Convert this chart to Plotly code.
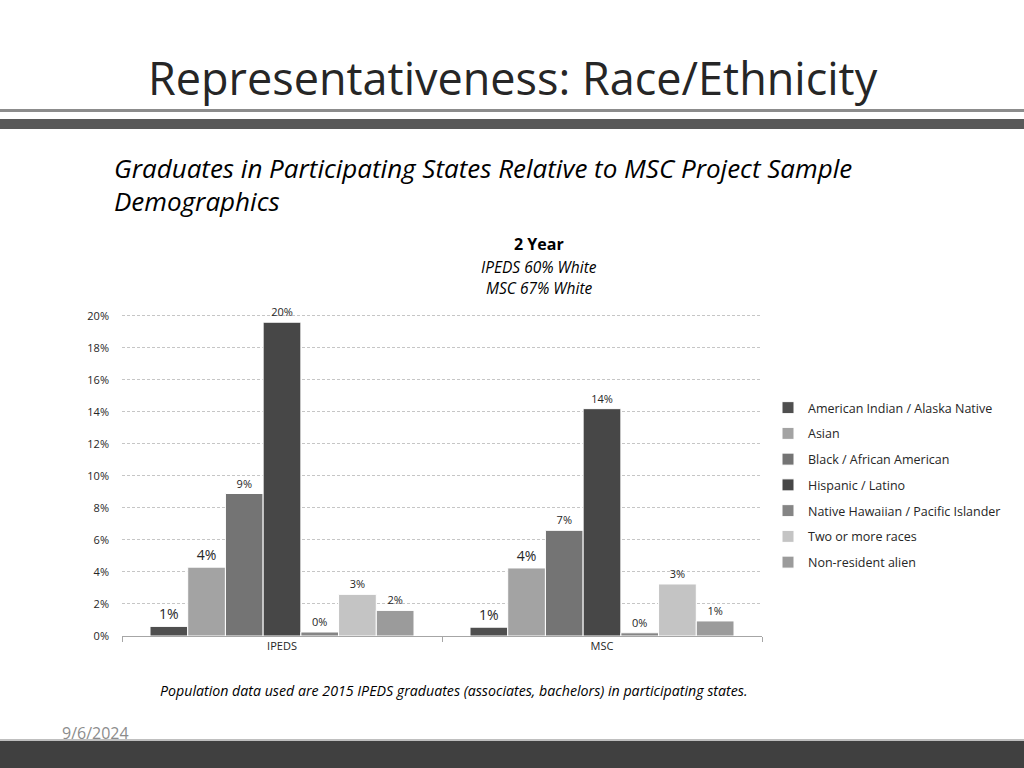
import plotly.graph_objects as go

# ---- data ----
groups = ["IPEDS", "MSC"]
series_names = [
    "American Indian / Alaska Native",
    "Asian",
    "Black / African American",
    "Hispanic / Latino",
    "Native Hawaiian / Pacific Islander",
    "Two or more races",
    "Non-resident alien",
]
aian = [0.006, 0.0055]
asian = [0.043, 0.0425]
black = [0.089, 0.066]
hispanic = [0.196, 0.142]
nhpi = [0.0025, 0.002]
two_more = [0.026, 0.0325]
nonres = [0.016, 0.0094]
y_ticks = [0, 0.02, 0.04, 0.06, 0.08, 0.10, 0.12, 0.14, 0.16, 0.18, 0.20]

series_values = [aian, asian, black, hispanic, nhpi, two_more, nonres]
colors = ["#4f4f4f", "#a3a3a3", "#747474", "#474747", "#858585", "#c4c4c4", "#9b9b9b"]
label_sizes = [14, 14, 11, 11, 11, 11, 11]

FONT = "Open Sans"

# plot area in pixels
L, R, T, B = 122, 762, 311, 636
W, H = 1024, 768


def px(x):
    return (x - L) / (R - L)


def py(y):
    return (B - y) / (B - T)


fig = go.Figure()
for i, (name, vals) in enumerate(zip(series_names, series_values)):
    fig.add_trace(go.Bar(
        x=groups, y=vals, name=name,
        marker=dict(color=colors[i], line=dict(color="white", width=1)),
        texttemplate="%{y:.0%}", textposition="outside",
        textfont=dict(family=FONT, size=label_sizes[i], color="#262626"),
        cliponaxis=False, legendgroup=name,
    ))

fig.update_layout(
    width=W, height=H,
    paper_bgcolor="white", plot_bgcolor="white",
    margin=dict(l=L, r=W - R, t=T, b=H - B, autoexpand=False),
    barmode="group", bargap=0.175, bargroupgap=0.0,
    font=dict(family=FONT, color="#262626"),
    showlegend=True,
    legend=dict(
        x=px(768), y=py(393), xanchor="left", yanchor="top",
        font=dict(family=FONT, size=12.5, color="#262626"),
        traceorder="grouped", tracegroupgap=6.5,
        itemwidth=30, bgcolor="rgba(0,0,0,0)",
    ),
    xaxis=dict(
        showline=True, linecolor="#a6a6a6", linewidth=1,
        ticks="outside", tickson="boundaries", ticklen=5, tickcolor="#a6a6a6",
        tickfont=dict(family=FONT, size=11, color="#262626"),
        showgrid=False,
    ),
    yaxis=dict(
        range=[0, 0.203], tickvals=y_ticks, tickformat=".0%",
        showgrid=True, gridcolor="#c6c6c6", griddash="3px,2px", gridwidth=1,
        zeroline=False, showline=False,
        tickfont=dict(family=FONT, size=11, color="#262626"),
        ticks="", ticklabelstandoff=12,
    ),
)

shapes = [
    dict(type="rect", xref="paper", yref="paper", x0=px(0), x1=px(W), y0=py(109), y1=py(112),
         fillcolor="#8c8c8c", line=dict(width=0), layer="below"),
    dict(type="rect", xref="paper", yref="paper", x0=px(0), x1=px(W), y0=py(119), y1=py(129),
         fillcolor="#595959", line=dict(width=0), layer="below"),
    dict(type="rect", xref="paper", yref="paper", x0=px(0), x1=px(W), y0=py(740), y1=py(H + 2),
         fillcolor="#404040", line=dict(width=0), layer="below"),
    dict(type="rect", xref="paper", yref="paper", x0=px(0), x1=px(W), y0=py(739), y1=py(741),
         fillcolor="#bfbfbf", line=dict(width=0), layer="below"),
]
fig.update_layout(shapes=shapes)

annotations = [
    dict(text="Representativeness: Race/Ethnicity", x=px(513), y=py(77),
         font=dict(family=FONT, size=45, color="#262626")),
    dict(text="<i>Graduates in Participating States Relative to MSC Project Sample</i>",
         x=px(112), y=py(168), xanchor="left",
         font=dict(family=FONT, size=26, color="#000000")),
    dict(text="<i>Demographics</i>", x=px(112), y=py(201), xanchor="left",
         font=dict(family=FONT, size=26, color="#000000")),
    dict(text="<b>2 Year</b>", x=px(539), y=py(244),
         font=dict(family=FONT, size=16, color="#000000")),
    dict(text="<i>IPEDS 60% White</i>", x=px(539), y=py(267),
         font=dict(family=FONT, size=15.5, color="#000000")),
    dict(text="<i>MSC 67% White</i>", x=px(539), y=py(288),
         font=dict(family=FONT, size=15.5, color="#000000")),
    dict(text="<i>Population data used are 2015 IPEDS graduates (associates, bachelors) in participating states.</i>",
         x=px(453), y=py(690),
         font=dict(family=FONT, size=14.2, color="#000000")),
    dict(text="9/6/2024", x=px(60), y=py(733), xanchor="left",
         font=dict(family=FONT, size=16, color="#8c8c8c")),
]
for a in annotations:
    a.update(xref="paper", yref="paper", showarrow=False)
    a.setdefault("xanchor", "center")
    a["yanchor"] = "middle"
fig.update_layout(annotations=annotations)

fig.write_html(
    "out.html",
    config={"displayModeBar": False},
    post_script="document.body.style.margin='0';document.body.style.padding='0';document.body.style.overflow='hidden';",
)
